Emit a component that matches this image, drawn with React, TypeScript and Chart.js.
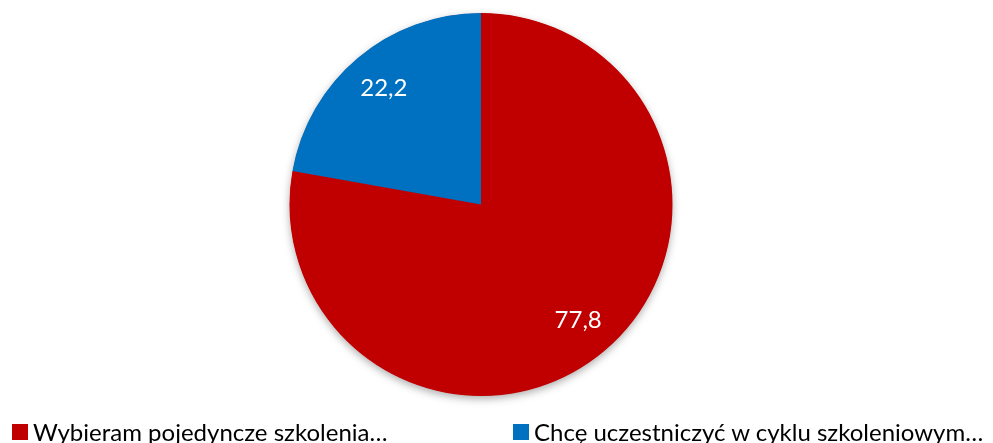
import React, { useEffect, useRef } from "react";
import { Chart, registerables } from "chart.js";

Chart.register(...registerables);

const categories = ["Wybieram pojedyncze szkolenia…", "Chcę uczestniczyć w cyklu szkoleniowym…"];
const values = [77.8, 22.2];
const valueLabels = ["77,8", "22,2"];
const colors = ["#C00000", "#0070C0"];

const FONT = "Lato, 'Open Sans', sans-serif";

const shadowPlugin = {
  id: "pieShadow",
  beforeDatasetsDraw(chart: any) {
    const meta = chart.getDatasetMeta(0);
    const arc = meta.data[0];
    if (!arc) return;
    const { x, y, outerRadius } = arc.getProps(["x", "y", "outerRadius"], true);
    const ctx = chart.ctx;
    ctx.save();
    ctx.shadowColor = "rgba(0,0,0,0.35)";
    ctx.shadowBlur = 8;
    ctx.shadowOffsetY = 3;
    ctx.beginPath();
    ctx.arc(x, y, outerRadius - 0.5, 0, Math.PI * 2);
    ctx.fillStyle = colors[0];
    ctx.fill();
    ctx.restore();
  },
};

const labelPlugin = {
  id: "sliceLabels",
  afterDatasetsDraw(chart: any) {
    const meta = chart.getDatasetMeta(0);
    const ctx = chart.ctx;
    ctx.save();
    ctx.fillStyle = "#ffffff";
    ctx.font = `24px ${FONT}`;
    ctx.textAlign = "center";
    ctx.textBaseline = "middle";
    meta.data.forEach((arc: any, i: number) => {
      const { x, y, startAngle, endAngle, outerRadius } = arc.getProps(
        ["x", "y", "startAngle", "endAngle", "outerRadius"],
        true
      );
      const mid = (startAngle + endAngle) / 2;
      const d = outerRadius * 0.79;
      ctx.fillText(valueLabels[i], x + Math.cos(mid) * d, y + Math.sin(mid) * d);
    });
    ctx.restore();
  },
};

export default function App() {
  const canvasRef = useRef<HTMLCanvasElement | null>(null);

  useEffect(() => {
    if (!canvasRef.current) return;
    const chart = new Chart(canvasRef.current, {
      type: "pie",
      data: {
        labels: categories,
        datasets: [
          {
            data: values,
            backgroundColor: colors,
            borderWidth: 0,
          },
        ],
      },
      options: {
        animation: false,
        responsive: true,
        maintainAspectRatio: false,
        layout: { padding: { top: 13, bottom: 47, left: 0, right: 31 } },
        plugins: {
          legend: { display: false },
          tooltip: { enabled: false },
        },
      },
      plugins: [shadowPlugin, labelPlugin],
    });
    return () => chart.destroy();
  }, []);

  return (
    <div
      style={{
        position: "fixed",
        left: 0,
        top: 0,
        width: 993,
        height: 443,
        overflow: "hidden",
        background: "#ffffff",
      }}
    >
      <div style={{ position: "absolute", left: 0, top: 0, width: 993, height: 443 }}>
        <canvas ref={canvasRef} />
      </div>
      {categories.map((c, i) => (
        <div
          key={c}
          style={{
            position: "absolute",
            left: i === 0 ? 12 : 513,
            top: 420,
            display: "flex",
            alignItems: "center",
            whiteSpace: "nowrap",
            fontFamily: FONT,
            fontSize: 24,
            lineHeight: "24px",
            color: "#000000",
          }}
        >
          <span
            style={{
              display: "inline-block",
              width: 16,
              height: 16,
              background: colors[i],
              marginRight: 5,
            }}
          />
          <span>{c}</span>
        </div>
      ))}
    </div>
  );
}
